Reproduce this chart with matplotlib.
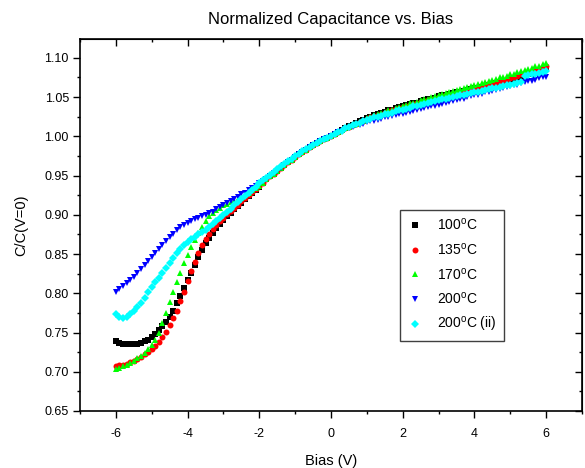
import numpy as np
import matplotlib
matplotlib.use("Agg")
import matplotlib.pyplot as plt
from matplotlib.ticker import MultipleLocator

plt.rcParams['font.family'] = ['Liberation Sans', 'DejaVu Sans']
plt.rcParams['mathtext.fontset'] = 'custom'
plt.rcParams['mathtext.rm'] = 'Liberation Sans'
plt.rcParams['axes.unicode_minus'] = False

# bias sweep, -6 V to 6 V in 0.1 V steps
bias = np.linspace(-6, 6, 121)

c_100 = [0.739, 0.737, 0.736, 0.735, 0.735, 0.735, 0.736, 0.737, 0.739, 0.741,
         0.744, 0.748, 0.753, 0.758, 0.764, 0.770, 0.778, 0.787, 0.797, 0.807,
         0.817, 0.826, 0.836, 0.846, 0.855, 0.864, 0.871, 0.877, 0.883, 0.888,
         0.893, 0.898, 0.902, 0.907, 0.911, 0.915, 0.920, 0.924, 0.928, 0.932,
         0.936, 0.941, 0.945, 0.949, 0.952, 0.956, 0.960, 0.963, 0.967, 0.970,
         0.974, 0.977, 0.980, 0.983, 0.986, 0.989, 0.991, 0.994, 0.996, 0.998,
         1.000, 1.003, 1.006, 1.008, 1.011, 1.013, 1.015, 1.017, 1.019, 1.021,
         1.023, 1.025, 1.027, 1.028, 1.030, 1.031, 1.033, 1.034, 1.036, 1.037,
         1.038, 1.040, 1.041, 1.042, 1.043, 1.045, 1.046, 1.047, 1.048, 1.049,
         1.051, 1.052, 1.053, 1.054, 1.055, 1.056, 1.057, 1.058, 1.059, 1.060,
         1.061, 1.062, 1.063, 1.064, 1.065, 1.067, 1.068, 1.069, 1.070, 1.071,
         1.073, 1.074, 1.075, 1.077, 1.078, 1.079, 1.080, 1.082, 1.083, 1.084,
         1.086]

c_135 = [0.707, 0.708, 0.709, 0.710, 0.712, 0.714, 0.716, 0.719, 0.722, 0.725,
         0.729, 0.733, 0.738, 0.744, 0.751, 0.759, 0.768, 0.778, 0.790, 0.802,
         0.815, 0.828, 0.840, 0.851, 0.861, 0.869, 0.876, 0.882, 0.887, 0.892,
         0.896, 0.901, 0.905, 0.909, 0.913, 0.917, 0.921, 0.925, 0.929, 0.933,
         0.937, 0.941, 0.945, 0.949, 0.952, 0.956, 0.960, 0.963, 0.967, 0.970,
         0.974, 0.977, 0.980, 0.983, 0.986, 0.989, 0.991, 0.994, 0.996, 0.998,
         1.000, 1.003, 1.005, 1.008, 1.010, 1.012, 1.014, 1.016, 1.018, 1.020,
         1.022, 1.024, 1.026, 1.027, 1.029, 1.030, 1.032, 1.033, 1.035, 1.036,
         1.037, 1.039, 1.040, 1.041, 1.042, 1.044, 1.045, 1.046, 1.047, 1.048,
         1.050, 1.051, 1.052, 1.053, 1.054, 1.055, 1.057, 1.058, 1.059, 1.060,
         1.061, 1.063, 1.064, 1.065, 1.066, 1.068, 1.069, 1.070, 1.072, 1.073,
         1.074, 1.076, 1.077, 1.079, 1.080, 1.081, 1.083, 1.084, 1.086, 1.087,
         1.089]

c_170 = [0.703, 0.705, 0.707, 0.709, 0.711, 0.714, 0.717, 0.720, 0.724, 0.729,
         0.734, 0.741, 0.750, 0.762, 0.775, 0.789, 0.802, 0.814, 0.826, 0.838,
         0.849, 0.859, 0.868, 0.877, 0.885, 0.892, 0.898, 0.902, 0.906, 0.909,
         0.912, 0.914, 0.916, 0.918, 0.920, 0.922, 0.925, 0.928, 0.931, 0.934,
         0.937, 0.941, 0.945, 0.949, 0.952, 0.956, 0.960, 0.963, 0.967, 0.970,
         0.974, 0.977, 0.980, 0.983, 0.986, 0.989, 0.991, 0.994, 0.996, 0.998,
         1.000, 1.003, 1.005, 1.008, 1.010, 1.012, 1.014, 1.016, 1.018, 1.020,
         1.023, 1.025, 1.027, 1.028, 1.030, 1.031, 1.033, 1.034, 1.036, 1.037,
         1.039, 1.040, 1.042, 1.043, 1.044, 1.046, 1.047, 1.048, 1.050, 1.051,
         1.053, 1.054, 1.055, 1.056, 1.058, 1.059, 1.060, 1.062, 1.063, 1.064,
         1.065, 1.067, 1.068, 1.069, 1.071, 1.072, 1.073, 1.075, 1.076, 1.077,
         1.079, 1.080, 1.082, 1.083, 1.084, 1.086, 1.087, 1.089, 1.090, 1.092,
         1.094]

c_200 = [0.802, 0.805, 0.809, 0.813, 0.817, 0.821, 0.826, 0.831, 0.836, 0.841,
         0.846, 0.851, 0.856, 0.862, 0.867, 0.872, 0.876, 0.880, 0.884, 0.887,
         0.890, 0.892, 0.894, 0.896, 0.898, 0.900, 0.902, 0.904, 0.907, 0.910,
         0.913, 0.915, 0.918, 0.920, 0.923, 0.926, 0.928, 0.931, 0.934, 0.937,
         0.940, 0.943, 0.946, 0.949, 0.953, 0.956, 0.960, 0.963, 0.967, 0.970,
         0.974, 0.977, 0.980, 0.983, 0.986, 0.989, 0.991, 0.994, 0.996, 0.998,
         1.000, 1.003, 1.005, 1.007, 1.009, 1.011, 1.012, 1.014, 1.015, 1.016,
         1.018, 1.019, 1.020, 1.021, 1.022, 1.024, 1.025, 1.026, 1.027, 1.028,
         1.029, 1.030, 1.031, 1.032, 1.034, 1.035, 1.036, 1.037, 1.038, 1.039,
         1.040, 1.041, 1.042, 1.044, 1.045, 1.046, 1.047, 1.048, 1.050, 1.051,
         1.052, 1.053, 1.054, 1.056, 1.057, 1.058, 1.059, 1.060, 1.062, 1.063,
         1.064, 1.065, 1.066, 1.068, 1.069, 1.070, 1.071, 1.072, 1.074, 1.075,
         1.076]

c_200ii = [0.774, 0.770, 0.769, 0.770, 0.773, 0.777, 0.782, 0.788, 0.794, 0.801,
           0.808, 0.814, 0.820, 0.826, 0.832, 0.838, 0.845, 0.851, 0.856, 0.861,
           0.865, 0.869, 0.872, 0.875, 0.878, 0.881, 0.885, 0.888, 0.892, 0.896,
           0.900, 0.904, 0.908, 0.912, 0.916, 0.920, 0.924, 0.928, 0.932, 0.936,
           0.940, 0.944, 0.947, 0.951, 0.955, 0.958, 0.962, 0.965, 0.968, 0.971,
           0.975, 0.978, 0.981, 0.984, 0.986, 0.989, 0.991, 0.994, 0.996, 0.998,
           1.000, 1.003, 1.005, 1.007, 1.010, 1.012, 1.014, 1.016, 1.017, 1.019,
           1.021, 1.022, 1.024, 1.025, 1.026, 1.028, 1.029, 1.030, 1.032, 1.033,
           1.034, 1.035, 1.036, 1.038, 1.039, 1.040, 1.041, 1.042, 1.044, 1.045,
           1.046, 1.047, 1.048, 1.049, 1.050, 1.051, 1.052, 1.053, 1.054, 1.055,
           1.056, 1.057, 1.058, 1.059, 1.060, 1.061, 1.062, 1.063, 1.064, 1.065,
           1.066, 1.067, 1.068, 1.069, 1.077, 1.078, 1.079, 1.080, 1.081, 1.082,
           1.083]

labels = ['100$^{\\rm o}$C', '135$^{\\rm o}$C', '170$^{\\rm o}$C',
          '200$^{\\rm o}$C', '200$^{\\rm o}$C (ii)']
series = [c_100, c_135, c_170, c_200, c_200ii]
colors = ['black', '#ff0000', '#00ff00', '#0000ff', '#00ffff']
markers = ['s', 'o', '^', 'v', 'D']
sizes = [3.8, 4.3, 4.6, 4.6, 3.8]

fig = plt.figure(figsize=(5.85, 4.68), dpi=100)
ax = fig.add_axes([0.1368, 0.1218, 0.8581, 0.7949])

for y, c, m, s, lab in zip(series, colors, markers, sizes, labels):
    ax.plot(bias, y, linestyle='none', marker=m, markersize=s, color=c,
            markeredgewidth=0, label=lab)

ax.set_xlim(-7, 7)
ax.set_ylim(0.65, 1.124)
ax.xaxis.set_major_locator(MultipleLocator(2))
ax.xaxis.set_minor_locator(MultipleLocator(1))
ax.yaxis.set_major_locator(MultipleLocator(0.05))
ax.yaxis.set_minor_locator(MultipleLocator(0.025))
ax.yaxis.set_major_formatter(plt.FormatStrFormatter('%.2f'))
ax.tick_params(which='both', direction='out', labelsize=9, width=1)
ax.tick_params(which='major', length=5)
ax.tick_params(which='minor', length=2.5)
ax.tick_params(axis='x', pad=7)
ax.tick_params(axis='y', pad=3)
for sp in ax.spines.values():
    sp.set_linewidth(1.2)

# mirrored ticks on top and right, pointing inward
top = ax.secondary_xaxis('top')
top.xaxis.set_major_locator(MultipleLocator(2))
top.xaxis.set_minor_locator(MultipleLocator(1))
top.tick_params(which='both', direction='in', labeltop=False, width=1)
top.tick_params(which='major', length=5)
top.tick_params(which='minor', length=2.5)
right = ax.secondary_yaxis('right')
right.yaxis.set_major_locator(MultipleLocator(0.05))
right.yaxis.set_minor_locator(MultipleLocator(0.025))
right.tick_params(which='both', direction='in', labelright=False, width=1)
right.tick_params(which='major', length=5)
right.tick_params(which='minor', length=2.5)

ax.set_title('Normalized Capacitance vs. Bias', fontsize=12, pad=11)
ax.set_xlabel('Bias (V)', fontsize=10.5, labelpad=10)
ax.set_ylabel('C/C(V=0)', fontsize=10.5, labelpad=12)

leg = ax.legend(loc='upper left', bbox_to_anchor=(0.623, 0.559), numpoints=1,
                fontsize=10, frameon=True, fancybox=False, framealpha=1,
                edgecolor='0.25', labelspacing=0.62, handlelength=1.2,
                handletextpad=1.0, borderpad=0.5, markerscale=1.0)
leg.get_frame().set_linewidth(1.0)

fig.savefig('out.png', dpi=100)
